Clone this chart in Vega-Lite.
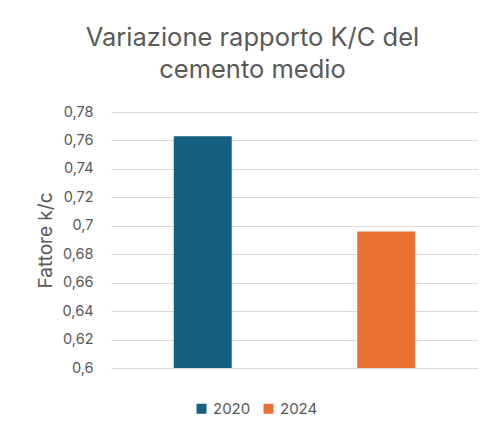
{
  "$schema": "https://vega.github.io/schema/vega-lite/v6.json",
  "autosize": "none",
  "width": 367,
  "height": 256,
  "padding": {"left": 111, "top": 112, "right": 24, "bottom": 73},
  "background": "white",
  "title": {
    "text": ["Variazione rapporto K/C del", "cemento medio"],
    "font": "Inter",
    "fontSize": 25.5,
    "fontWeight": "normal",
    "color": "#595959",
    "lineHeight": 32,
    "anchor": "middle",
    "dx": -42,
    "offset": 21
  },
  "data": {
    "values": [
      {"anno": "2020", "fattore": 0.763},
      {"anno": "2024", "fattore": 0.696}
    ]
  },
  "mark": {"type": "bar", "clip": true},
  "encoding": {
    "x": {
      "field": "anno",
      "type": "nominal",
      "scale": {"paddingInner": 0.684, "paddingOuter": 0.342},
      "axis": null
    },
    "y": {
      "field": "fattore",
      "type": "quantitative",
      "scale": {"domain": [0.6, 0.78], "zero": false, "nice": false},
      "axis": {
        "title": "Fattore k/c",
        "values": [0.6, 0.62, 0.64, 0.66, 0.68, 0.7, 0.72, 0.74, 0.76, 0.78],
        "labelExpr": "replace(format(datum.value, '.2~f'), '.', ',')"
      }
    },
    "color": {
      "field": "anno",
      "type": "nominal",
      "scale": {"domain": ["2020", "2024"], "range": ["#156082", "#E97132"]},
      "legend": {
        "title": null,
        "orient": "none",
        "direction": "horizontal",
        "legendX": 83,
        "legendY": 289,
        "symbolType": "square",
        "symbolSize": 100,
        "symbolStrokeWidth": 0,
        "labelFont": "Inter",
        "labelFontSize": 15,
        "labelColor": "#595959",
        "labelOffset": 4,
        "columnPadding": 10
      }
    }
  },
  "config": {
    "view": {"stroke": null},
    "axisY": {
      "domain": false,
      "ticks": false,
      "grid": true,
      "gridColor": "#d9d9d9",
      "gridWidth": 1.2,
      "labelFont": "Inter",
      "labelFontSize": 14.5,
      "labelColor": "#595959",
      "labelPadding": 18,
      "titleFont": "Inter",
      "titleFontSize": 19,
      "titleFontWeight": "normal",
      "titleColor": "#595959",
      "titlePadding": 7
    }
  }
}
